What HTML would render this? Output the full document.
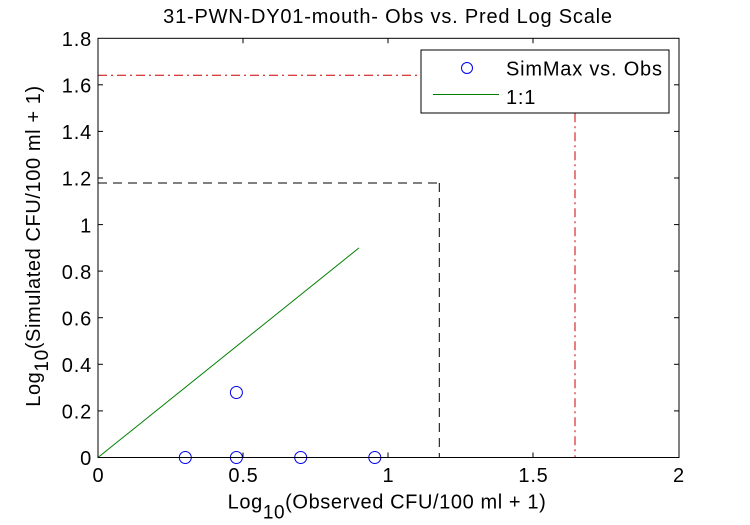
<!DOCTYPE html>
<html>
<head>
<meta charset="utf-8">
<style>
  html, body { margin: 0; padding: 0; background: #ffffff; }
  body { width: 750px; height: 525px; overflow: hidden; }
  svg { display: block; }
  text { font-family: "Liberation Sans", Arial, sans-serif; fill: #000; }
</style>
</head>
<body>
<svg width="750" height="525" viewBox="0 0 750 525" xmlns="http://www.w3.org/2000/svg">
  <rect x="0" y="0" width="750" height="525" fill="#ffffff"/>

  <!-- Title -->
  <text x="388" y="23" font-size="20" letter-spacing="0.8" text-anchor="middle">31-PWN-DY01-mouth- Obs vs. Pred Log Scale</text>

  <!-- Plot area -->
  <rect x="98" y="38.3" width="581" height="419.2" fill="#ffffff"/>

  <!-- Red dash-dot lines (1.644) -->
  <line x1="98" y1="75.3" x2="575" y2="75.3" stroke="#cc0000" stroke-width="1" stroke-dasharray="9 4 2 4"/>
  <line x1="575" y1="75.3" x2="575" y2="457.5" stroke="#cc0000" stroke-width="1" stroke-dasharray="9 4 2 4"/>

  <!-- Black dashed lines (1.178) -->
  <line x1="98" y1="183" x2="439.3" y2="183" stroke="#000" stroke-width="1" stroke-dasharray="9 6"/>
  <line x1="439.3" y1="183" x2="439.3" y2="457.5" stroke="#000" stroke-width="1" stroke-dasharray="9 6"/>

  <!-- 1:1 line -->
  <line x1="98" y1="457.5" x2="359" y2="247.9" stroke="#008000" stroke-width="1"/>

  <!-- Data circles -->
  <g fill="none" stroke="#0000ee" stroke-width="1">
    <circle cx="185.3" cy="457.5" r="6"/>
    <circle cx="236.4" cy="457.5" r="6"/>
    <circle cx="236.4" cy="392.5" r="6"/>
    <circle cx="300.7" cy="457.5" r="6"/>
    <circle cx="374.8" cy="457.5" r="6"/>
  </g>

  <!-- Axes box -->
  <rect x="98" y="38.3" width="581" height="419.2" fill="none" stroke="#000" stroke-width="1"/>

  <!-- Ticks -->
  <g stroke="#000" stroke-width="1">
    <!-- x ticks bottom/top -->
    <line x1="243" y1="457.5" x2="243" y2="452.5"/>
    <line x1="388" y1="457.5" x2="388" y2="452.5"/>
    <line x1="533" y1="457.5" x2="533" y2="452.5"/>
    <line x1="243" y1="38.3" x2="243" y2="43.3"/>
    <line x1="388" y1="38.3" x2="388" y2="43.3"/>
    <line x1="533" y1="38.3" x2="533" y2="43.3"/>
    <!-- y ticks left -->
    <line x1="98" y1="410.9" x2="103" y2="410.9"/>
    <line x1="98" y1="364.3" x2="103" y2="364.3"/>
    <line x1="98" y1="317.7" x2="103" y2="317.7"/>
    <line x1="98" y1="271.1" x2="103" y2="271.1"/>
    <line x1="98" y1="224.6" x2="103" y2="224.6"/>
    <line x1="98" y1="178.0" x2="103" y2="178.0"/>
    <line x1="98" y1="131.4" x2="103" y2="131.4"/>
    <line x1="98" y1="84.8" x2="103" y2="84.8"/>
    <!-- y ticks right -->
    <line x1="679" y1="410.9" x2="674" y2="410.9"/>
    <line x1="679" y1="364.3" x2="674" y2="364.3"/>
    <line x1="679" y1="317.7" x2="674" y2="317.7"/>
    <line x1="679" y1="271.1" x2="674" y2="271.1"/>
    <line x1="679" y1="224.6" x2="674" y2="224.6"/>
    <line x1="679" y1="178.0" x2="674" y2="178.0"/>
    <line x1="679" y1="131.4" x2="674" y2="131.4"/>
    <line x1="679" y1="84.8" x2="674" y2="84.8"/>
  </g>

  <!-- Y tick labels -->
  <g font-size="20" letter-spacing="0.8" text-anchor="end">
    <text x="92" y="465.2">0</text>
    <text x="92" y="418.6">0.2</text>
    <text x="92" y="372.0">0.4</text>
    <text x="92" y="325.4">0.6</text>
    <text x="92" y="278.8">0.8</text>
    <text x="92" y="232.3">1</text>
    <text x="92" y="185.7">1.2</text>
    <text x="92" y="139.1">1.4</text>
    <text x="92" y="92.5">1.6</text>
    <text x="92" y="46.0">1.8</text>
  </g>

  <!-- X tick labels -->
  <g font-size="20" letter-spacing="0.8" text-anchor="middle">
    <text x="98.5" y="482">0</text>
    <text x="243.5" y="482">0.5</text>
    <text x="388.5" y="482">1</text>
    <text x="533.5" y="482">1.5</text>
    <text x="679" y="482">2</text>
  </g>

  <!-- X axis label -->
  <text x="387" y="508.3" font-size="20" letter-spacing="0.6" text-anchor="middle">Log<tspan font-size="19" dy="10">10</tspan><tspan dy="-10">(Observed CFU/100 ml + 1)</tspan></text>

  <!-- Y axis label -->
  <text x="246" y="40" font-size="20" letter-spacing="0.6" text-anchor="middle" transform="rotate(-90 246 40) translate(0 0)" style="display:none">x</text>
  <g transform="translate(40 246) rotate(-90)">
    <text x="0" y="0" font-size="20" letter-spacing="0.6" text-anchor="middle">Log<tspan font-size="19" dy="8">10</tspan><tspan dy="-8">(Simulated CFU/100 ml + 1)</tspan></text>
  </g>

  <!-- Legend -->
  <rect x="421" y="50" width="248" height="63" fill="#ffffff" stroke="#000" stroke-width="1"/>
  <circle cx="467" cy="68" r="5.5" fill="none" stroke="#0000ee" stroke-width="1"/>
  <line x1="433" y1="94.5" x2="499" y2="94.5" stroke="#008000" stroke-width="1"/>
  <text x="506" y="75.7" font-size="20" letter-spacing="0.8">SimMax vs. Obs</text>
  <text x="506" y="104" font-size="20" letter-spacing="0.8">1:1</text>
</svg>
</body>
</html>
